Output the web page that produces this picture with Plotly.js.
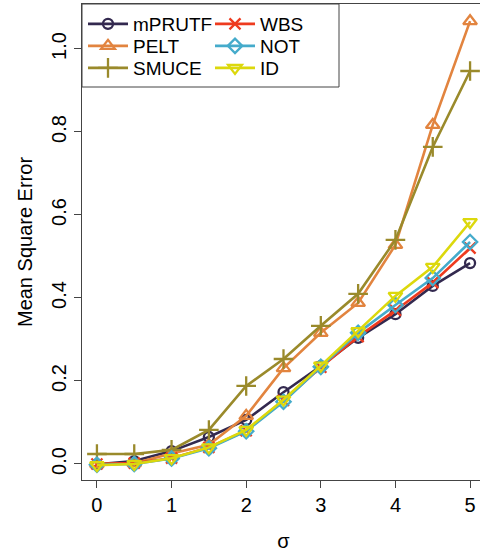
<!DOCTYPE html>
<html>
<head>
<meta charset="utf-8">
<script src="https://cdn.plot.ly/plotly-3.0.1.min.js"></script>
<style>
html,body{margin:0;padding:0;overflow:hidden;background:#fff;}
#chart{width:487px;height:554px;}
</style>
</head>
<body>
<div id="chart"></div>
<script>
const sigma = [0, 0.5, 1, 1.5, 2, 2.5, 3, 3.5, 4, 4.5, 5];
const mPRUTF = [-0.001, 0.007, 0.031, 0.065, 0.106, 0.173, 0.236, 0.304, 0.361, 0.429, 0.484];
const PELT   = [0.000, 0.002, 0.025, 0.046, 0.116, 0.231, 0.316, 0.388, 0.528, 0.817, 1.067];
const SMUCE  = [0.024, 0.024, 0.034, 0.082, 0.188, 0.253, 0.333, 0.410, 0.540, 0.764, 0.947];
const WBS    = [0.000, 0.002, 0.014, 0.040, 0.080, 0.153, 0.233, 0.307, 0.370, 0.437, 0.520];
const NOT    = [-0.002, 0.000, 0.013, 0.038, 0.079, 0.150, 0.234, 0.316, 0.383, 0.448, 0.535];
const ID     = [-0.003, 0.000, 0.014, 0.040, 0.082, 0.155, 0.237, 0.320, 0.405, 0.475, 0.583];
const xTicks = [0, 1, 2, 3, 4, 5];
const yTicks = [0, 0.2, 0.4, 0.6, 0.8, 1.0];
const yTickText = ["0.0", "0.2", "0.4", "0.6", "0.8", "1.0"];

const FONT = "Liberation Sans, Arial, sans-serif";
// plot-area pixel geometry helpers (for legend placement only)
const PL = 82, PW = 403, PT = 4, PH = 476;
const px2x = p => (p - PL) / PW;
const px2y = p => (PT + PH - p) / PH;

function tr(name, y, color, symbol, size, legend) {
  return {
    x: sigma, y: y, name: name, type: "scatter", mode: "lines+markers",
    legend: legend,
    line: {color: color, width: 2.6},
    marker: {symbol: symbol, size: size, color: color, line: {color: color, width: 2.3}},
    cliponaxis: false
  };
}
const data = [
  tr("mPRUTF", mPRUTF, "#33294f", "circle-open", 10, "legend"),
  tr("PELT", PELT, "#e2843f", "triangle-up-open", 12, "legend2"),
  tr("SMUCE", SMUCE, "#9a8a2b", "cross-thin-open", 14, "legend3"),
  tr("WBS", WBS, "#ee3b1f", "x-thin-open", 11, "legend4"),
  tr("NOT", NOT, "#45abcb", "diamond-open", 11, "legend5"),
  tr("ID", ID, "#dcd80c", "triangle-down-open", 12, "legend6")
];

function leg(xpx, ypx) {
  return {
    x: px2x(xpx), xanchor: "left", y: px2y(ypx), yanchor: "middle",
    bgcolor: "rgba(0,0,0,0)", borderwidth: 0,
    font: {family: FONT, size: 19, color: "#000"},
    itemwidth: 40
  };
}

const layout = {
  width: 487, height: 554,
  margin: {l: PL, r: 487 - PL - PW, t: PT, b: 554 - PT - PH},
  paper_bgcolor: "#fff", plot_bgcolor: "#fff",
  font: {family: FONT, size: 20, color: "#000"},
  showlegend: true,
  legend: leg(83, 24), legend2: leg(83, 46), legend3: leg(83, 68),
  legend4: leg(210, 24), legend5: leg(210, 46), legend6: leg(210, 68),
  xaxis: {
    range: [-0.2, 5.2], tickvals: xTicks, ticktext: xTicks.map(String),
    ticks: "outside", ticklen: 7, tickwidth: 1, tickcolor: "#444",
    showgrid: false, zeroline: false,
    showline: true, mirror: true, linecolor: "#444", linewidth: 1,
    tickfont: {family: FONT, size: 20, color: "#000"},
    title: {text: "σ", font: {family: FONT, size: 20, color: "#000"}, standoff: 18}
  },
  yaxis: {
    range: [-0.0386, 1.1084], tickvals: yTicks, ticktext: yTickText,
    tickangle: -90,
    ticks: "outside", ticklen: 7, tickwidth: 1, tickcolor: "#444",
    showgrid: false, zeroline: false,
    showline: true, mirror: true, linecolor: "#444", linewidth: 1,
    tickfont: {family: FONT, size: 20, color: "#000"},
    title: {text: "Mean Square Error", font: {family: FONT, size: 20, color: "#000"}, standoff: 10}
  },
  shapes: [{
    type: "rect", xref: "paper", yref: "paper",
    x0: 0, x1: px2x(339), y0: px2y(87), y1: 1,
    line: {color: "#444", width: 1}, fillcolor: "rgba(0,0,0,0)"
  }]
};
Plotly.newPlot("chart", data, layout, {displayModeBar: false, staticPlot: true});
</script>
</body>
</html>
